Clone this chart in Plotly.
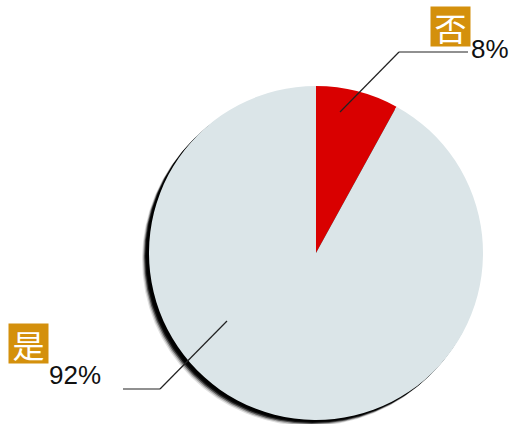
import plotly.graph_objects as go

labels = ["否", "是"]
values = [8, 92]
colors = ["#d90000", "#dbe5e8"]
pct_text = ["8%", "92%"]

W, H = 513, 424

def px(x):
    return x / W

def py(y):
    return 1 - y / H

cx, cy, r = 316, 253, 167

fig = go.Figure()
fig.add_trace(go.Pie(
    labels=labels, values=values, sort=False, direction="clockwise", rotation=0,
    marker=dict(colors=colors, line=dict(width=0)),
    textinfo="none", hoverinfo="label+percent", showlegend=False,
    domain=dict(x=[px(cx - r), px(cx + r)], y=[py(cy + r), py(cy - r)]),
))

shapes = []
# soft shadow behind the pie (offset left-down)
for off, op in [(7, 0.12), (6, 0.25), (5, 0.5), (4, 0.8), (3, 1.0)]:
    shapes.append(dict(type="circle", xref="paper", yref="paper", layer="below",
                       x0=px(cx - r - off), x1=px(cx + r - off + 1),
                       y0=py(cy + r + off - 1), y1=py(cy - r + off),
                       fillcolor=f"rgba(0,0,0,{op})", line=dict(width=0)))

def seg(x0, y0, x1, y1):
    return dict(type="line", xref="paper", yref="paper", x0=px(x0), y0=py(y0),
                x1=px(x1), y1=py(y1), line=dict(color="#222222", width=1.2))

shapes += [seg(340, 112, 399, 52), seg(399, 52, 468, 52),
           seg(227, 321, 160, 389), seg(160, 389, 123, 389)]

annotations = []
box_pos = [(450, 27), (28, 343)]
pct_pos = [(490, 49), (75, 375)]
for i in range(2):
    bx, by = box_pos[i]
    annotations.append(dict(text=labels[i], xref="paper", yref="paper",
                            x=px(bx), y=py(by), xanchor="center", yanchor="middle",
                            showarrow=False, bgcolor="#d4900c", borderpad=0,
                            width=39, height=39, valign="middle", align="center",
                            font=dict(family="Noto Sans CJK SC", size=32, color="white")))
    tx, ty = pct_pos[i]
    annotations.append(dict(text=pct_text[i], xref="paper", yref="paper",
                            x=px(tx), y=py(ty), xanchor="center", yanchor="middle",
                            showarrow=False,
                            font=dict(family="Liberation Sans", size=26, color="#111111")))

fig.update_layout(width=W, height=H, margin=dict(l=0, r=0, t=0, b=0),
                  paper_bgcolor="white", plot_bgcolor="white",
                  shapes=shapes, annotations=annotations)

fig.write_html("out.html")
